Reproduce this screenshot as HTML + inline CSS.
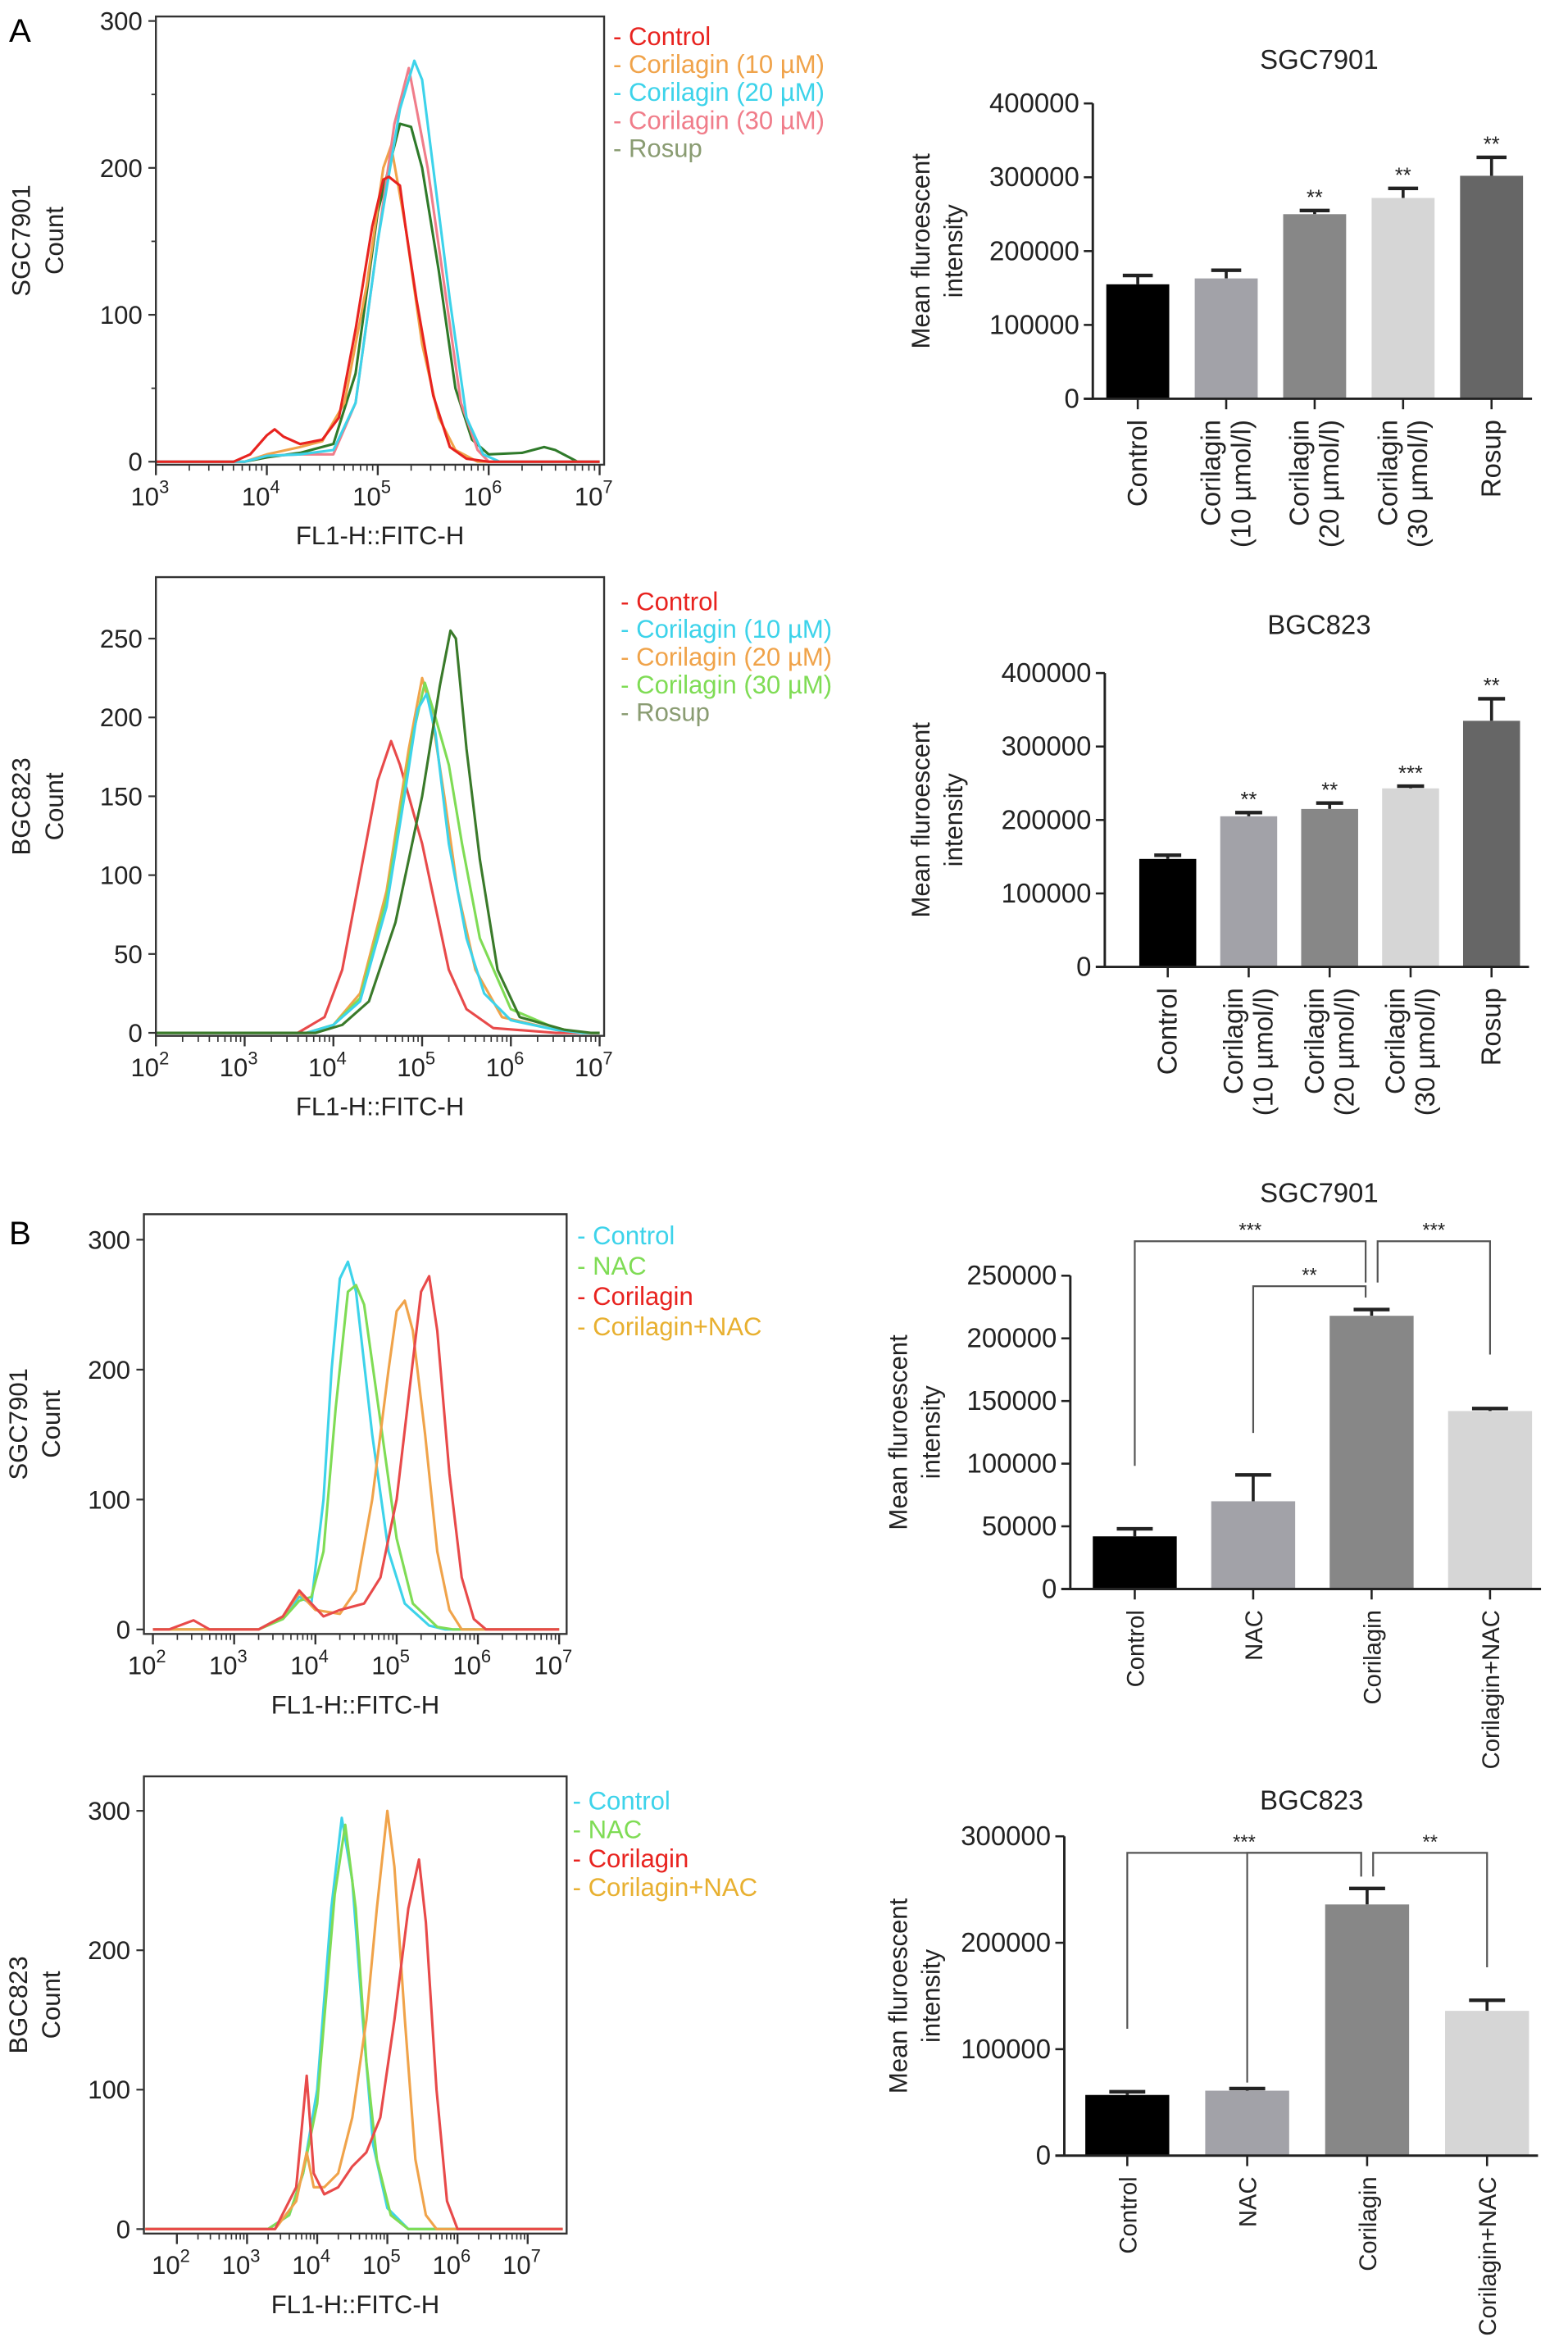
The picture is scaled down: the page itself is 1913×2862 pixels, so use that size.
<!DOCTYPE html>
<html><head><meta charset="utf-8"><style>
html,body{margin:0;padding:0;background:#fff;}
svg{display:block;font-family:"Liberation Sans",Arial,sans-serif;}
</style></head><body>
<svg id="fig" width="1913" height="2862" viewBox="0 0 1046 1565" preserveAspectRatio="none" xmlns="http://www.w3.org/2000/svg">
<text x="6" y="28" font-size="22">A</text>
<text x="6" y="830" font-size="22">B</text>
</svg>
<script>
// ---------- Histogram data (log10 FL1-H, count) ----------
const a1ControlX=[3,3.7,3.85,4.0,4.07,4.15,4.3,4.5,4.65,4.8,4.95,5.05,5.1,5.2,5.25,5.35,5.5,5.65,5.8,6,7];
const a1ControlY=[0,0,5,18,22,17,12,15,30,90,160,192,194,188,160,110,45,10,2,0,0];
const a1C10X=[3,3.8,4.0,4.3,4.5,4.7,4.9,5.05,5.12,5.18,5.25,5.4,5.55,5.7,5.9,7];
const a1C10Y=[0,0,5,10,14,40,120,200,215,190,160,80,30,8,0,0];
const a1C20X=[3,3.8,4.0,4.3,4.6,4.8,5.0,5.2,5.33,5.4,5.5,5.65,5.8,5.95,6.1,7];
const a1C20Y=[0,0,4,5,8,40,150,240,273,260,200,110,30,5,0,0];
const a1C30X=[3,3.8,4.0,4.3,4.6,4.8,5.0,5.15,5.28,5.35,5.45,5.6,5.75,5.9,6.0,7];
const a1C30Y=[0,0,4,5,5,40,150,230,268,240,200,120,40,8,0,0];
const a1RosupX=[3,3.8,4.0,4.3,4.6,4.8,5.0,5.2,5.3,5.4,5.55,5.7,5.85,6.0,6.3,6.5,6.6,6.75,6.8,7];
const a1RosupY=[0,0,3,6,12,60,170,230,228,200,130,50,15,5,6,10,8,2,0,0];

const a2ControlX=[2,3.6,3.9,4.1,4.3,4.5,4.65,4.75,4.85,5.0,5.15,5.3,5.5,5.8,6.5,7];
const a2ControlY=[0,0,10,40,100,160,185,170,150,120,80,40,15,3,0,0];
const a2C10X=[2,3.7,4.0,4.3,4.6,4.8,4.95,5.05,5.15,5.3,5.5,5.7,6.0,6.5,6.8,7];
const a2C10Y=[0,0,5,20,80,150,205,215,190,120,60,25,8,2,0,0];
const a2C20X=[2,3.7,4.0,4.3,4.6,4.85,5.0,5.1,5.25,5.4,5.6,5.9,6.5,6.8,7];
const a2C20Y=[0,0,5,25,90,180,225,205,150,90,40,10,2,0,0];
const a2C30X=[2,3.7,4.0,4.3,4.6,4.9,5.03,5.15,5.3,5.45,5.65,6.0,6.5,6.8,7];
const a2C30Y=[0,0,5,22,85,190,222,200,170,120,60,15,3,0,0];
const a2RosupX=[2,3.8,4.1,4.4,4.7,5.0,5.2,5.32,5.38,5.5,5.65,5.85,6.1,6.6,6.9,7];
const a2RosupY=[0,0,5,20,70,150,220,255,250,180,110,40,10,2,0,0];

const b1ControlX=[2,3.3,3.6,3.8,3.95,4.1,4.2,4.3,4.4,4.5,4.7,4.9,5.1,5.4,5.6,7];
const b1ControlY=[0,0,10,25,20,100,200,270,283,260,150,60,20,3,0,0];
const b1NacX=[2,3.3,3.6,3.8,3.95,4.1,4.25,4.4,4.5,4.6,4.8,5.0,5.2,5.5,5.7,7];
const b1NacY=[0,0,8,22,25,60,170,260,265,250,160,70,20,2,0,0];
const b1CorX=[2,2.2,2.5,2.7,3.3,3.6,3.8,3.95,4.1,4.3,4.6,4.8,5.0,5.15,5.3,5.4,5.5,5.65,5.8,5.95,6.1,7];
const b1CorY=[0,0,7,0,0,10,30,20,10,15,20,40,100,180,260,272,230,120,40,8,0,0];
const b1CorNacX=[2,3.3,3.6,3.8,4.0,4.3,4.5,4.7,4.9,5.0,5.1,5.2,5.35,5.5,5.65,5.8,7];
const b1CorNacY=[0,0,10,28,15,12,30,100,200,245,253,230,150,60,15,0,0];

const b2ControlX=[1.55,3.3,3.6,3.8,4.0,4.2,4.35,4.5,4.65,4.8,5.0,5.3,7.5];
const b2ControlY=[0,0,10,40,100,230,295,250,150,60,15,0,0];
const b2NacX=[1.55,3.3,3.6,3.8,4.0,4.25,4.4,4.55,4.7,4.85,5.05,5.3,7.5];
const b2NacY=[0,0,10,40,90,240,290,230,120,50,10,0,0];
const b2CorX=[1.55,3.4,3.7,3.85,3.95,4.1,4.3,4.5,4.7,4.9,5.1,5.3,5.45,5.55,5.7,5.85,6.0,7.5];
const b2CorY=[0,0,30,110,40,25,30,45,55,80,150,230,265,220,100,20,0,0];
const b2CorNacX=[1.55,3.4,3.7,3.85,3.95,4.1,4.3,4.5,4.7,4.85,5.0,5.1,5.25,5.4,5.55,5.7,7.5];
const b2CorNacY=[0,0,20,55,30,30,40,80,150,230,300,260,150,50,10,0,0];

// ---------- Bar chart data ----------
const a1Cats=[["Control"],["Corilagin","(10 µmol/l)"],["Corilagin","(20 µmol/l)"],["Corilagin","(30 µmol/l)"],["Rosup"]];
const a1Means=[155000,163000,250000,272000,302000];
const a1Errs=[12000,11000,5000,13000,25000];
const a1Sig=["","","**","**","**"];
const a1Ticks=[0,100000,200000,300000,400000];
const a2Means=[147000,205000,215000,243000,335000];
const a2Errs=[5000,5000,8000,3000,30000];
const a2Sig=["","**","**","***","**"];
const a2Ticks=[0,100000,200000,300000,400000];
const bCats=[["Control"],["NAC"],["Corilagin"],["Corilagin+NAC"]];
const b1Means=[42000,70000,218000,142000];
const b1Errs=[6000,21000,5000,2000];
const b1Ticks=[0,50000,100000,150000,200000,250000];
const b2Means=[57000,61000,236000,136000];
const b2Errs=[3000,2000,15000,10000];
const b2Ticks=[0,100000,200000,300000];

const NS="http://www.w3.org/2000/svg";
const svg=document.getElementById('fig');
function mk(tag,attrs,parent,txt){const e=document.createElementNS(NS,tag);for(const k in attrs)e.setAttribute(k,attrs[k]);if(txt!==undefined)e.textContent=txt;(parent||svg).appendChild(e);return e;}

function histogram(cfg){
  const g=mk('g',{});
  
  
  const X=v=>cfg.xp0+(v-cfg.dmin)*(cfg.xp1-cfg.xp0)/(cfg.dmax-cfg.dmin);
  const Y=v=>cfg.y0-(v/cfg.ymax)*(cfg.y0-cfg.ytop);
  const [bx0,by0,bx1,by1]=cfg.box;
  const clip='clip'+cfg.name;
  const cp=mk('clipPath',{id:clip},g);mk('rect',{x:bx0,y:by0,width:bx1-bx0,height:by1-by0},cp);
  cfg.series.forEach(s=>{
    const pts=s.x.map((v,i)=>X(v).toFixed(1)+','+Y(s.y[i]).toFixed(1)).join(' ');
    const p=mk('polyline',{points:pts,fill:'none',stroke:s.color,'stroke-width':1.7,'stroke-linejoin':'round','clip-path':'url(#'+clip+')'},g);
    
    
  });
  const box=mk('rect',{x:bx0,y:by0,width:bx1-bx0,height:by1-by0,fill:'none',stroke:'#333','stroke-width':1.3},g);
  
  
  cfg.yticks.forEach(t=>{
    mk('line',{x1:bx0-5,x2:bx0,y1:Y(t),y2:Y(t),stroke:'#333','stroke-width':1.2},g);
    const tl=mk('text',{x:bx0-9,y:Y(t)+6,'font-size':17,'text-anchor':'end',fill:'#222'},g,String(t));
    
    
  });
  cfg.yminor.forEach(t=>mk('line',{x1:bx0-3,x2:bx0,y1:Y(t),y2:Y(t),stroke:'#333','stroke-width':1},g));
  for(let d=cfg.dmin;d<=cfg.dmax;d++){
    mk('line',{x1:X(d),x2:X(d),y1:by1,y2:by1+7,stroke:'#333','stroke-width':1.3},g);
    const tl=mk('text',{x:X(d)-4,y:by1+27,'font-size':17,'text-anchor':'middle',fill:'#222'},g,'10');
    mk('tspan',{'font-size':12,dy:-8},tl,String(d));
    
    
    if(d<cfg.dmax)for(let m=2;m<10;m++){const lx=X(d+Math.log10(m));mk('line',{x1:lx,x2:lx,y1:by1,y2:by1+4,stroke:'#333','stroke-width':0.9},g);}
  }
  const xt=mk('text',{x:(bx0+bx1)/2,y:by1+53,'font-size':17,'text-anchor':'middle',fill:'#222'},g,'FL1-H::FITC-H');
  
  
  const cy=(by0+by1)/2;
  const yt=mk('text',{transform:`translate(${cfg.ylx},${cy}) rotate(-90)`,'font-size':17,'text-anchor':'middle',fill:'#222'},g);
  mk('tspan',{x:0,y:0},yt,cfg.cell);mk('tspan',{x:0,y:22},yt,'Count');
  
  
  cfg.legend.forEach((l,i)=>{
    const t=mk('text',{x:cfg.lx,y:cfg.ly+i*cfg.lstep,'font-size':17,fill:l.tc||l.color},g,'- '+l.label);
    
    
  });
}

function barchart(cfg){
  const g=mk('g',{});
  
  
  const Y=v=>cfg.y0-(v/cfg.ymax)*(cfg.y0-cfg.ytop);
  const n=cfg.means.length;
  const cx=i=>cfg.c0+i*cfg.step;
  const colors=cfg.colors;
  cfg.means.forEach((m,i)=>{
    const top=Y(m+cfg.errs[i]);
    mk('line',{x1:cx(i),x2:cx(i),y1:Y(m),y2:top,stroke:'#222','stroke-width':2},g);
    mk('line',{x1:cx(i)-cfg.cap,x2:cx(i)+cfg.cap,y1:top,y2:top,stroke:'#222','stroke-width':2.4},g);
    const r=mk('rect',{x:cx(i)-cfg.bw/2,y:Y(m),width:cfg.bw,height:cfg.y0-Y(m),fill:colors[i]},g);
    
    
    if(cfg.sig&&cfg.sig[i]){const s=mk('text',{x:cx(i),y:top-4,'font-size':14,'text-anchor':'middle',fill:'#222'},g,cfg.sig[i]);
      
      }
  });
  mk('line',{x1:cfg.ax,x2:cfg.ax,y1:cfg.ytop,y2:cfg.y0,stroke:'#222','stroke-width':1.6},g);
  mk('line',{x1:cfg.ax-6,x2:cx(n-1)+cfg.bw/2+6,y1:cfg.y0,y2:cfg.y0,stroke:'#222','stroke-width':1.6},g);
  cfg.ticks.forEach(t=>{
    mk('line',{x1:cfg.ax-6,x2:cfg.ax,y1:Y(t),y2:Y(t),stroke:'#222','stroke-width':1.4},g);
    const tl=mk('text',{x:cfg.ax-9,y:Y(t)+6,'font-size':18,'text-anchor':'end',fill:'#222'},g,String(t));
    
    
  });
  cfg.cats.forEach((c,i)=>{
    mk('line',{x1:cx(i),x2:cx(i),y1:cfg.y0,y2:cfg.y0+7,stroke:'#222','stroke-width':1.4},g);
    const t=mk('text',{transform:`translate(${cx(i)},${cfg.y0+14}) rotate(-90)`,'font-size':cfg.lfs,'text-anchor':'end',fill:'#222'},g);
    c.forEach((s,k)=>mk('tspan',{x:0,y:(k-(c.length-1)/2)*20+6},t,s));
    
    
  });
  const tt=mk('text',{x:cfg.tx,y:cfg.ty,'font-size':18,'text-anchor':'middle',fill:'#222'},g,cfg.title);
  
  
  const yt=mk('text',{transform:`translate(${cfg.ylx},${(cfg.ytop+cfg.y0)/2}) rotate(-90)`,'font-size':17,'text-anchor':'middle',fill:'#222'},g);
  mk('tspan',{x:0,y:0},yt,'Mean fluroescent');mk('tspan',{x:0,y:22},yt,'intensity');
  
  
  (cfg.brackets||[]).forEach(b=>{
    const ly=Y(b.level);
    const x1=cx(b.from)+(b.dx1||0),x2=cx(b.to)+(b.dx2||0);
    const d1=Y(cfg.means[b.from]+cfg.errs[b.from])-b.gap1,d2=Y(cfg.means[b.to]+cfg.errs[b.to])-b.gap2;
    const p=mk('polyline',{points:`${x1},${d1} ${x1},${ly} ${x2},${ly} ${x2},${d2}`,fill:'none',stroke:'#555','stroke-width':1.2},g);
    
    
    mk('text',{x:(x1+x2)/2,y:ly-3,'font-size':13,'text-anchor':'middle',fill:'#222'},g,b.label);
  });
}

const RED='#e8231f',ORG='#f0a34a',CYN='#3dd3ea',PNK='#f07d8a',DGR='#2f7a2a',LGR='#7fdc55';
histogram({name:'histogram-a-sgc7901',box:[104,11,403,310],dmin:3,dmax:7,xp0:104,xp1:400,y0:308,ytop:14,ymax:300,
  yticks:[0,100,200,300],yminor:[50,150,250],ylx:20,cell:'SGC7901',lx:409,ly:30,lstep:18.7,
  series:[{id:'rosup',x:a1RosupX,y:a1RosupY,color:DGR},{id:'corilagin-10',x:a1C10X,y:a1C10Y,color:ORG},{id:'corilagin-30',x:a1C30X,y:a1C30Y,color:PNK},{id:'corilagin-20',x:a1C20X,y:a1C20Y,color:CYN},{id:'control',x:a1ControlX,y:a1ControlY,color:RED}],
  legend:[{label:'Control',color:RED},{label:'Corilagin (10 µM)',color:ORG},{label:'Corilagin (20 µM)',color:CYN},{label:'Corilagin (30 µM)',color:PNK},{label:'Rosup',color:'#8a9c72'}]});
histogram({name:'histogram-a-bgc823',box:[104,385,403,691],dmin:2,dmax:7,xp0:104,xp1:400,y0:689,ytop:426,ymax:250,
  yticks:[0,50,100,150,200,250],yminor:[],ylx:20,cell:'BGC823',lx:414,ly:407,lstep:18.5,
  series:[{id:'control',x:a2ControlX,y:a2ControlY,color:'#e84a4a'},{id:'corilagin-20',x:a2C20X,y:a2C20Y,color:ORG},{id:'corilagin-30',x:a2C30X,y:a2C30Y,color:LGR},{id:'corilagin-10',x:a2C10X,y:a2C10Y,color:CYN},{id:'rosup',x:a2RosupX,y:a2RosupY,color:'#3a7a2a'}],
  legend:[{label:'Control',color:RED},{label:'Corilagin (10 µM)',color:CYN},{label:'Corilagin  (20 µM)',color:ORG},{label:'Corilagin (30 µM)',color:LGR},{label:'Rosup',color:'#3a6a2a',tc:'#8a9c72'}]});
histogram({name:'histogram-b-sgc7901',box:[96,810,378,1090],dmin:2,dmax:7,xp0:102,xp1:373,y0:1087,ytop:827,ymax:300,
  yticks:[0,100,200,300],yminor:[],ylx:18,cell:'SGC7901',lx:385,ly:830,lstep:20.3,
  series:[{id:'control',x:b1ControlX,y:b1ControlY,color:CYN},{id:'nac',x:b1NacX,y:b1NacY,color:LGR},{id:'corilagin-nac',x:b1CorNacX,y:b1CorNacY,color:ORG},{id:'corilagin',x:b1CorX,y:b1CorY,color:'#e84a4a'}],
  legend:[{label:'Control',color:CYN},{label:'NAC',color:LGR},{label:'Corilagin',color:RED},{label:'Corilagin+NAC',color:'#e8b030'}]});
histogram({name:'histogram-b-bgc823',box:[96,1185,378,1490],dmin:2,dmax:7,xp0:118,xp1:352,y0:1487,ytop:1208,ymax:300,
  yticks:[0,100,200,300],yminor:[],ylx:18,cell:'BGC823',lx:382,ly:1207,lstep:19.3,
  series:[{id:'control',x:b2ControlX,y:b2ControlY,color:CYN},{id:'nac',x:b2NacX,y:b2NacY,color:LGR},{id:'corilagin-nac',x:b2CorNacX,y:b2CorNacY,color:ORG},{id:'corilagin',x:b2CorX,y:b2CorY,color:'#e84a4a'}],
  legend:[{label:'Control',color:CYN},{label:'NAC',color:LGR},{label:'Corilagin',color:RED},{label:'Corilagin+NAC',color:'#e8b030'}]});

const AC=['#000','#a2a2a8','#878787','#d6d6d6','#666'];
barchart({name:'bar-chart-a-sgc7901',cats:a1Cats,means:a1Means,errs:a1Errs,sig:a1Sig,ticks:a1Ticks,colors:AC,ymax:400000,y0:266,ytop:69,ax:729,c0:759,step:59,bw:42,cap:10,lfs:18,tx:880,ty:46,ylx:620,title:'SGC7901'});
barchart({name:'bar-chart-a-bgc823',cats:a1Cats,means:a2Means,errs:a2Errs,sig:a2Sig,ticks:a2Ticks,colors:AC,ymax:400000,y0:645,ytop:449,ax:737,c0:779,step:54,bw:38,cap:9,lfs:18,tx:880,ty:423,ylx:620,title:'BGC823'});
barchart({name:'bar-chart-b-sgc7901',cats:bCats,means:b1Means,errs:b1Errs,ticks:b1Ticks,colors:['#000','#a2a2a8','#878787','#d6d6d6'],ymax:250000,y0:1060,ytop:851,ax:714,c0:757,step:79,bw:56,cap:12,lfs:16,tx:880,ty:802,ylx:605,title:'SGC7901',
  brackets:[{from:0,to:2,level:277500,label:'***',gap1:42,gap2:18,dx2:-4},{from:1,to:2,level:241600,label:'**',gap1:28,gap2:8,dx2:-4},{from:2,to:3,level:277500,label:'***',gap1:18,gap2:36,dx1:4}]});
barchart({name:'bar-chart-b-bgc823',cats:bCats,means:b2Means,errs:b2Errs,ticks:b2Ticks,colors:['#000','#a2a2a8','#878787','#d6d6d6'],ymax:300000,y0:1438,ytop:1225,ax:710,c0:752,step:80,bw:56,cap:12,lfs:16,tx:875,ty:1207,ylx:605,title:'BGC823',
  brackets:[{from:0,to:2,level:284500,label:'***',gap1:42,gap2:8,dx2:-4},{from:1,to:2,level:284500,label:'',gap1:4,gap2:8,dx2:-4},{from:2,to:3,level:284500,label:'**',gap1:8,gap2:22,dx1:4}]});
</script>
</body></html>
